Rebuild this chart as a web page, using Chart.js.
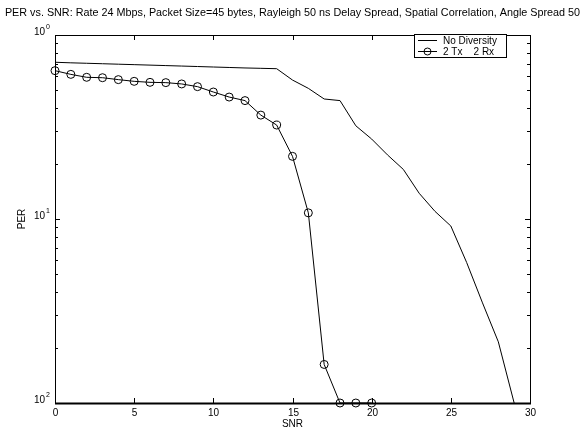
<!DOCTYPE html>
<html>
<head>
<meta charset="utf-8">
<script src="https://cdn.jsdelivr.net/npm/chart.js@4/dist/chart.umd.min.js"></script>
<style>
  html, body { margin: 0; padding: 0; background: #fff; }
</style>
</head>
<body>
<canvas id="perChart" width="588" height="431"></canvas>
<script>
// values
const snrNoDiv = [0, 1, 2, 3, 4, 5, 6, 7, 8, 9, 10, 11, 12, 13, 14, 15, 16, 17, 18, 19, 20, 21, 22, 23, 24, 25, 26, 27, 28, 29];
const perNoDiv = [0.711, 0.706, 0.702, 0.698, 0.694, 0.690, 0.686, 0.682, 0.678, 0.674, 0.670, 0.666, 0.662, 0.659, 0.656,
                  0.569, 0.513, 0.449, 0.440, 0.321, 0.272, 0.223, 0.186, 0.138, 0.110, 0.0916, 0.058, 0.035, 0.0215, 0.01];
const snr2x2 = [0, 1, 2, 3, 4, 5, 6, 7, 8, 9, 10, 11, 12, 13, 14, 15, 16, 17, 18, 19, 20];
const per2x2 = [0.640, 0.611, 0.589, 0.586, 0.572, 0.560, 0.553, 0.551, 0.542, 0.524, 0.490, 0.460, 0.440,
                0.367, 0.324, 0.219, 0.108, 0.0162, 0.01, 0.01, 0.01];
const xTicks = [0, 5, 10, 15, 20, 25, 30];
const yTicks = [0.01, 0.1, 1];
const yTickExp = ['2', '1', '0'];
const seriesNames = ['No Diversity', '2 Tx    2 Rx'];

const FONT = '"Liberation Sans", Arial, Helvetica, sans-serif';

const matlabAxes = {
  id: 'matlabAxes',
  afterDraw(chart) {
    const ctx = chart.ctx;
    const a = chart.chartArea;
    const xs = chart.scales.x, ys = chart.scales.y;
    ctx.save();
    ctx.strokeStyle = '#000';
    ctx.fillStyle = '#000';
    ctx.lineWidth = 1;

    // box
    ctx.strokeRect(a.left + 0.5, a.top + 0.5, a.right - a.left, a.bottom - a.top);
    ctx.lineWidth = 2;
    ctx.beginPath();
    ctx.moveTo(a.left, a.bottom + 0.5);
    ctx.lineTo(a.right + 1, a.bottom + 0.5);
    ctx.stroke();
    ctx.lineWidth = 1;

    // x ticks, inside, top and bottom
    ctx.font = '10px ' + FONT;
    ctx.textAlign = 'center';
    ctx.textBaseline = 'top';
    xTicks.forEach(v => {
      const px = Math.round(xs.getPixelForValue(v)) + 0.5;
      ctx.beginPath();
      ctx.moveTo(px, a.bottom); ctx.lineTo(px, a.bottom - 5);
      ctx.moveTo(px, a.top); ctx.lineTo(px, a.top + 5);
      ctx.stroke();
      ctx.fillText(String(v), px, a.bottom + 5);
    });

    // y ticks, log minor + major
    for (let d = 0.01; d < 1; d *= 10) {
      for (let m = 1; m <= 10; m++) {
        const v = d * m;
        const py = Math.round(ys.getPixelForValue(v)) + 0.5;
        const len = (m === 1 || m === 10) ? 5 : 3;
        ctx.beginPath();
        ctx.moveTo(a.left, py); ctx.lineTo(a.left + len, py);
        ctx.moveTo(a.right, py); ctx.lineTo(a.right - len, py);
        ctx.stroke();
      }
    }

    // y labels "10" with exponent
    yTicks.forEach((v, i) => {
      const py = ys.getPixelForValue(v);
      ctx.textBaseline = 'middle';
      ctx.textAlign = 'right';
      ctx.font = '10px ' + FONT;
      ctx.fillText('10', a.left - 10, py - 3);
      ctx.font = '7px ' + FONT;
      ctx.textAlign = 'left';
      ctx.fillText(yTickExp[i], a.left - 9, py - 8);
    });

    // title and axis labels
    ctx.textAlign = 'center';
    ctx.textBaseline = 'middle';
    ctx.font = '10.8px ' + FONT;
    ctx.fillText('PER vs. SNR: Rate 24 Mbps, Packet Size=45 bytes, Rayleigh 50 ns Delay Spread, Spatial Correlation, Angle Spread 50',
      (a.left + a.right) / 2, 13);
    ctx.font = '10px ' + FONT;
    ctx.fillText('SNR', (a.left + a.right) / 2, 424);
    ctx.save();
    ctx.translate(22, (a.top + a.bottom) / 2);
    ctx.rotate(-Math.PI / 2);
    ctx.fillText('PER', 0, 0);
    ctx.restore();

    // legend box
    const lx = 414, ly = 34, lw = 92, lh = 23;
    ctx.fillStyle = '#fff';
    ctx.fillRect(lx, ly, lw, lh);
    ctx.strokeRect(lx + 0.5, ly + 0.5, lw, lh);
    ctx.fillStyle = '#000';
    ctx.textAlign = 'left';
    ctx.font = '10px ' + FONT;
    [0, 1].forEach(i => {
      const yy = ly + 6 + i * 11;
      ctx.beginPath();
      ctx.moveTo(lx + 4, yy + 0.5); ctx.lineTo(lx + 23, yy + 0.5);
      ctx.stroke();
      if (i === 1) {
        ctx.beginPath();
        ctx.arc(lx + 13.5, yy + 0.5, 3.5, 0, Math.PI * 2);
        ctx.stroke();
      }
      ctx.fillText(seriesNames[i], lx + 29, yy + 1);
    });
    ctx.restore();
  }
};

new Chart(document.getElementById('perChart'), {
  type: 'line',
  data: {
    datasets: [{
      label: seriesNames[0],
      data: snrNoDiv.map((s, i) => ({ x: s, y: perNoDiv[i] })),
      borderColor: '#000',
      borderWidth: 1,
      pointRadius: 0,
      tension: 0,
      clip: false
    }, {
      label: seriesNames[1],
      data: snr2x2.map((s, i) => ({ x: s, y: per2x2[i] })),
      borderColor: '#000',
      borderWidth: 1,
      pointRadius: 4,
      pointBorderWidth: 1,
      pointBorderColor: '#000',
      pointBackgroundColor: 'rgba(0,0,0,0)',
      tension: 0,
      clip: false
    }]
  },
  options: {
    responsive: false,
    animation: false,
    devicePixelRatio: 1,
    layout: { padding: { left: 55, top: 35, right: 58, bottom: 28 } },
    scales: {
      x: { type: 'linear', min: 0, max: 30, display: false },
      y: { type: 'logarithmic', min: 0.01, max: 1, display: false }
    },
    plugins: {
      legend: { display: false },
      tooltip: { enabled: false }
    }
  },
  plugins: [matlabAxes]
});
</script>
</body>
</html>
